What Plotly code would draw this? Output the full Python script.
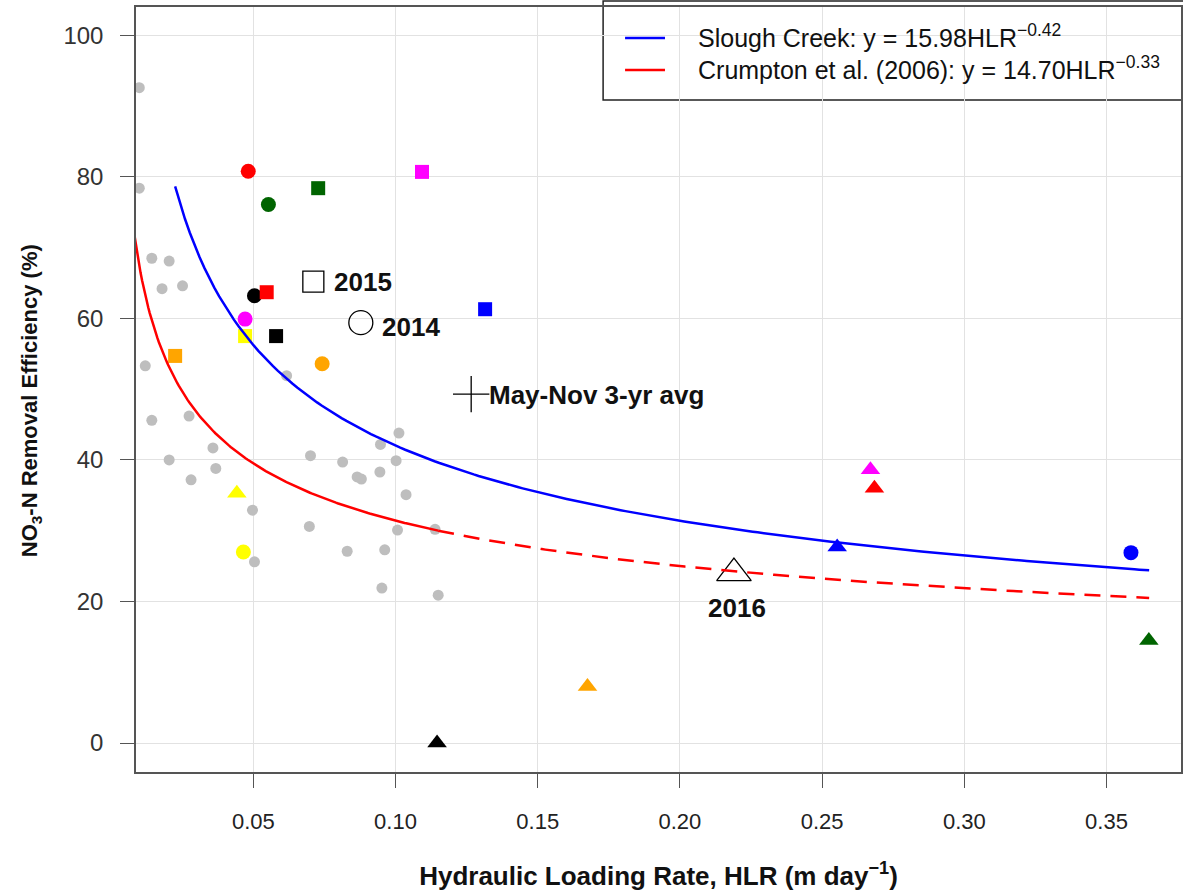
import numpy as np
import plotly.graph_objects as go

# Wetland sites, one colour each; 2014 = circle, 2015 = square, 2016 = triangle
site_colors = ["#FF0000", "#006400", "#FF00FF", "#000000", "#FFFF00", "#FFA500", "#0000FF"]

hlr_2014 = [0.0482, 0.0553, 0.0471, 0.0504, 0.0465, 0.0742, 0.3586]
eff_2014 = [80.8, 76.1, 59.9, 63.2, 27.0, 53.6, 26.9]

hlr_2015 = [0.0547, 0.0728, 0.1093, 0.0580, 0.0471, 0.0225, 0.1315]
eff_2015 = [63.7, 78.4, 80.7, 57.5, 57.5, 54.7, 61.3]

hlr_2016 = [0.2684, 0.3649, 0.2670, 0.1146, 0.0442, 0.1675, 0.2553]
eff_2016 = [36.0, 14.5, 38.6, 0.0, 35.3, 8.0, 27.7]

# Crumpton et al. (2006) wetlands
crumpton_hlr = [0.0099, 0.0099, 0.0143, 0.0204, 0.0179, 0.0251, 0.0120, 0.0617,
                0.0143, 0.0274, 0.0358, 0.0204, 0.0368, 0.0281, 0.0497, 0.0504,
                0.1012, 0.0947, 0.0701, 0.0814, 0.1002, 0.0945, 0.0865, 0.0880,
                0.1037, 0.0697, 0.1007, 0.1139, 0.0830, 0.0962, 0.0952, 0.1150]
crumpton_eff = [92.6, 78.4, 68.5, 68.1, 64.2, 64.6, 53.3, 51.9,
                45.6, 46.2, 41.7, 40.0, 38.8, 37.2, 32.9, 25.6,
                43.8, 42.2, 40.6, 39.7, 39.9, 38.3, 37.6, 37.3,
                35.1, 30.6, 30.1, 30.2, 27.1, 27.3, 21.9, 20.9]

# Slough Creek annual values and the May-Nov average
slough_labels = ["2014", "2015", "2016", "May-Nov 3-yr avg"]
slough_hlr = [0.0878, 0.0711, 0.2190, 0.1266]
slough_eff = [59.4, 65.2, 24.0, 49.3]

# Power-law fits y = a * HLR^b
slough_a, slough_b = 15.98, -0.42
crumpton_a, crumpton_b = 14.70, -0.33
slough_span = (0.0225, 0.365)
crumpton_solid_span = (0.0082, 0.115)
crumpton_dash_span = (0.115, 0.365)

fit_names = ["Slough Creek: y = 15.98HLR<sup>\u22120.42</sup>",
             "Crumpton et al. (2006): y = 14.70HLR<sup>\u22120.33</sup>"]
fit_colors = ["#0000FF", "#FF0000"]

x_ticks = [0.05, 0.10, 0.15, 0.20, 0.25, 0.30, 0.35]
y_ticks = [0, 20, 40, 60, 80, 100]

FONT = "Liberation Sans"
AXIS = "#555555"

# plot-area geometry in pixels (used for placing the legend box and y title)
W, H = 1183, 893
ML, MT, MB = 136, 7, 121
PW, PH = W - ML, H - MT - MB


def px_x(p):
    return (p - ML) / PW


def px_y(p):
    return 1 - (p - MT) / PH


def power_curve(a, b, span, n=200):
    x = np.linspace(span[0], span[1], n)
    return x, a * x ** b


fig = go.Figure()

# Crumpton wetlands (grey dots)
fig.add_trace(go.Scatter(
    x=crumpton_hlr, y=crumpton_eff, mode="markers", showlegend=False,
    marker=dict(symbol="circle", size=11, color="#BEBEBE", line=dict(width=0)),
))

# site points by year
for hx, hy, sym, size in [(hlr_2014, eff_2014, "circle", 15),
                          (hlr_2015, eff_2015, "square", 14),
                          (hlr_2016, eff_2016, "triangle-up", 17)]:
    fig.add_trace(go.Scatter(
        x=hx, y=hy, mode="markers", showlegend=False,
        marker=dict(symbol=sym, size=size, color=site_colors, line=dict(width=0)),
    ))

# Slough Creek open symbols
slough_symbols = ["circle-open", "square-open", "triangle-up-open", "cross-thin-open"]
slough_sizes = [24, 21, 30, 26]
for i in range(len(slough_labels)):
    fig.add_trace(go.Scatter(
        x=[slough_hlr[i]], y=[slough_eff[i]], mode="markers", showlegend=False,
        marker=dict(symbol=slough_symbols[i], size=slough_sizes[i], color="#000000",
                    line=dict(width=1.3, color="#000000")),
    ))

# fitted curves
sx, sy = power_curve(slough_a, slough_b, slough_span)
fig.add_trace(go.Scatter(x=sx, y=sy, mode="lines", showlegend=False,
                         line=dict(color=fit_colors[0], width=2.5), name=fit_names[0]))
cx, cy = power_curve(crumpton_a, crumpton_b, crumpton_solid_span)
fig.add_trace(go.Scatter(x=cx, y=cy, mode="lines", showlegend=False,
                         line=dict(color=fit_colors[1], width=2.5), name=fit_names[1]))
dx, dy = power_curve(crumpton_a, crumpton_b, crumpton_dash_span)
fig.add_trace(go.Scatter(x=dx, y=dy, mode="lines", showlegend=False,
                         line=dict(color=fit_colors[1], width=2.5, dash="16px,10px")))

# labels beside the Slough Creek symbols
label_pos = [dict(xshift=19, yshift=-4, xanchor="left", yanchor="middle"),
             dict(xshift=19, yshift=0, xanchor="left", yanchor="middle"),
             dict(xshift=3, yshift=-35, xanchor="center", yanchor="middle"),
             dict(xshift=16, yshift=-1, xanchor="left", yanchor="middle")]
for i, lab in enumerate(slough_labels):
    fig.add_annotation(x=slough_hlr[i], y=slough_eff[i], text="<b>%s</b>" % lab,
                       showarrow=False, font=dict(family=FONT, size=26, color="#111111"),
                       **label_pos[i])

# legend box with the two fitted-curve keys
fig.add_shape(type="rect", xref="paper", yref="paper",
              x0=px_x(604), x1=1.02, y0=px_y(100), y1=px_y(1),
              line=dict(color="#222222", width=1.5), fillcolor="white", layer="below")
for i, (name, col) in enumerate(zip(fit_names, fit_colors)):
    row_y = px_y(38 + 32 * i)
    fig.add_shape(type="line", xref="paper", yref="paper",
                  x0=px_x(626), x1=px_x(666), y0=row_y, y1=row_y,
                  line=dict(color=col, width=2.5))
    fig.add_annotation(xref="paper", yref="paper", x=px_x(697), y=row_y, text=name,
                       showarrow=False, xanchor="left", yanchor="middle", yshift=2,
                       font=dict(family=FONT, size=25, color="#111111"))

# y-axis title
fig.add_annotation(xref="paper", yref="paper", x=px_x(31), y=px_y(401),
                   text="<b>NO<sub>3</sub>-N Removal Efficiency (%)</b>", textangle=-90,
                   showarrow=False, xanchor="center", yanchor="middle",
                   font=dict(family=FONT, size=22, color="#111111"))

fig.update_layout(
    width=W, height=H,
    margin=dict(l=ML, r=0, t=MT, b=MB),
    paper_bgcolor="white", plot_bgcolor="white",
    font=dict(family=FONT, color="#222222"),
    showlegend=False,
    xaxis=dict(
        range=[0.00874, 0.3762], tickvals=x_ticks, ticktext=["%.2f" % v for v in x_ticks],
        showgrid=True, gridcolor="#E2E2E2", gridwidth=1, zeroline=False,
        showline=True, linecolor=AXIS, linewidth=1.5, mirror=True,
        ticks="outside", ticklen=14, tickcolor=AXIS, tickwidth=1,
        tickfont=dict(family=FONT, size=22, color="#222222"), ticklabelstandoff=15,
        title=dict(text="<b>Hydraulic Loading Rate, HLR (m day<sup>\u22121</sup>)</b>",
                   font=dict(family=FONT, size=26, color="#111111"), standoff=34),
    ),
    yaxis=dict(
        range=[-4.09, 104.0], tickvals=y_ticks,
        showgrid=True, gridcolor="#E2E2E2", gridwidth=1, zeroline=False,
        showline=True, linecolor=AXIS, linewidth=1.5, mirror=True,
        ticks="outside", ticklen=14, tickcolor=AXIS, tickwidth=1,
        tickfont=dict(family=FONT, size=24, color="#333333"), ticklabelstandoff=12,
    ),
)

fig.write_html("out.html")
